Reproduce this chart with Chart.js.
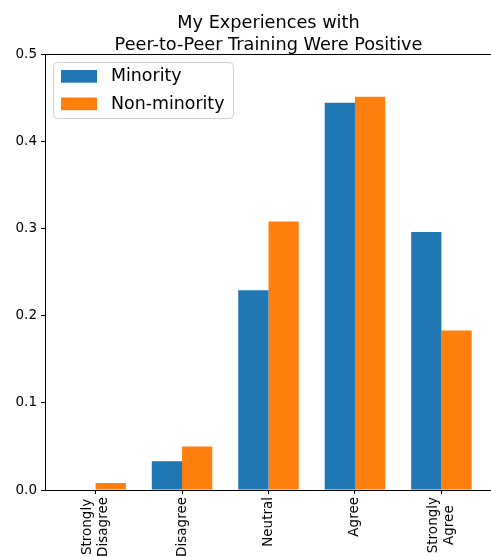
<!DOCTYPE html>
<html>
<head>
<meta charset="utf-8">
<script src="https://cdn.jsdelivr.net/npm/chart.js@4.4.1/dist/chart.umd.min.js"></script>
<style>
  html, body { margin: 0; padding: 0; overflow: hidden; background: #fff; }
  #wrap { width: 500px; height: 557px; }
</style>
</head>
<body>
<div id="wrap"><canvas id="chart"></canvas></div>
<script>
// categories (multi-line tick labels)
const CATEGORIES = [
    ['Strongly', 'Disagree'],
    ['Disagree'],
    ['Neutral'],
    ['Agree'],
    ['Strongly', 'Agree']
];
const MINORITY = [0.0, 0.033, 0.229, 0.444, 0.296];
const NON_MINORITY = [0.008, 0.050, 0.308, 0.451, 0.183];
const Y_TICKS = [0, 0.1, 0.2, 0.3, 0.4, 0.5];
const TITLE_LINES = ['My Experiences with', 'Peer-to-Peer Training Were Positive'];
const SERIES_NAMES = ['Minority', 'Non-minority'];
const COLORS = ['#1f77b4', '#ff7f0e'];

const FONT = "'DejaVu Sans', sans-serif";
const TICK_SIZE = 13.5;

const toPoints = (arr) => arr.map((v, i) => ({ x: i, y: v }));

// frame, title, legend and rotated x labels drawn like matplotlib
const decorPlugin = {
    id: 'decor',
    afterDraw(chart) {
        const { ctx, chartArea: a } = chart;
        ctx.save();
        // spines
        ctx.strokeStyle = '#000';
        ctx.lineWidth = 1;
        ctx.strokeRect(Math.round(a.left) + 0.5, Math.round(a.top) + 0.5,
            Math.round(a.right - a.left), Math.round(a.bottom - a.top));

        // title
        const cx = (a.left + a.right) / 2;
        ctx.fillStyle = '#000';
        ctx.font = '17.7px ' + FONT;
        ctx.textAlign = 'center';
        ctx.textBaseline = 'alphabetic';
        ctx.fillText(TITLE_LINES[0], cx, 28);
        ctx.fillText(TITLE_LINES[1], cx, 49.5);

        // x tick labels, rotated, block centred on the tick
        const xs = chart.scales.x;
        ctx.font = TICK_SIZE + 'px ' + FONT;
        ctx.textBaseline = 'middle';
        ctx.textAlign = 'center';
        const lineH = 15.5;
        CATEGORIES.forEach((lines, i) => {
            const px = xs.getPixelForValue(i);
            const w = Math.max(...lines.map(l => ctx.measureText(l).width));
            ctx.save();
            ctx.translate(px, a.bottom + 7);
            ctx.rotate(-Math.PI / 2);
            lines.forEach((l, j) => {
                ctx.fillText(l, -w / 2, (j - (lines.length - 1) / 2) * lineH);
            });
            ctx.restore();
        });

        // legend box
        const lx = 53.5, ly = 62.5, lw = 180, lh = 56;
        ctx.beginPath();
        ctx.roundRect(lx, ly, lw, lh, 4);
        ctx.fillStyle = 'rgba(255,255,255,0.8)';
        ctx.fill();
        ctx.strokeStyle = '#d0d0d0';
        ctx.stroke();

        ctx.font = '17.4px ' + FONT;
        ctx.textAlign = 'left';
        ctx.textBaseline = 'middle';
        SERIES_NAMES.forEach((name, i) => {
            const y = 70 + i * 27.5;
            ctx.fillStyle = COLORS[i];
            ctx.fillRect(61, y, 36, 12.7);
            ctx.fillStyle = '#000';
            ctx.fillText(name, 111, y + 6.5);
        });
        ctx.restore();
    }
};

new Chart(document.getElementById('chart'), {
    type: 'bar',
    data: {
        datasets: [
            { label: SERIES_NAMES[0], data: toPoints(MINORITY), backgroundColor: COLORS[0] },
            { label: SERIES_NAMES[1], data: toPoints(NON_MINORITY), backgroundColor: COLORS[1] }
        ]
    },
    options: {
        responsive: true,
        maintainAspectRatio: false,
        animation: false,
        categoryPercentage: 0.7,
        barPercentage: 1.0,
        layout: { padding: { top: 54, right: 8, left: 0, bottom: 0 } },
        plugins: {
            legend: { display: false },
            title: { display: false },
            tooltip: { enabled: false }
        },
        scales: {
            x: {
                type: 'linear',
                min: -0.585,
                max: 4.585,
                offset: false,
                border: { display: false },
                grid: { offset: false, drawOnChartArea: false, drawTicks: true, tickLength: 4, color: '#000' },
                afterBuildTicks: (s) => { s.ticks = CATEGORIES.map((_, i) => ({ value: i })); },
                afterFit: (s) => { s.height = 67; },
                ticks: { display: false }
            },
            y: {
                min: 0,
                max: 0.5,
                border: { display: false },
                grid: { drawOnChartArea: false, drawTicks: true, tickLength: 4, color: '#000' },
                afterBuildTicks: (s) => { s.ticks = Y_TICKS.map(v => ({ value: v })); },
                afterFit: (s) => { s.width = 45; },
                ticks: {
                    padding: 4,
                    color: '#000',
                    font: { family: FONT, size: TICK_SIZE },
                    callback: (v) => v.toFixed(1)
                }
            }
        }
    },
    plugins: [decorPlugin]
});
</script>
</body>
</html>
